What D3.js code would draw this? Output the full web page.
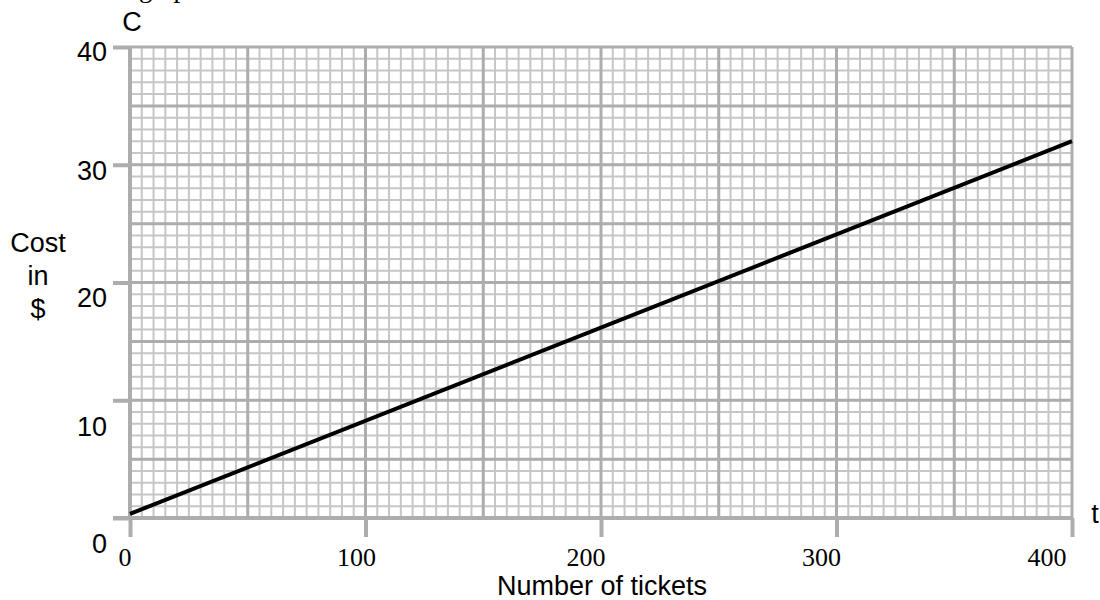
<!DOCTYPE html>
<html>
<head>
<meta charset="utf-8">
<script src="https://cdn.jsdelivr.net/npm/d3@7"></script>
<style>
  body { margin: 0; background: #fff; }
  svg { display: block; }
</style>
</head>
<body>
<svg id="chart" width="1100" height="600"></svg>
<script>
// ---- data ----
const tickets = [0, 400];
const cost = [0.35, 32];
const xTickLabels = [0, 100, 200, 300, 400];
const yTickLabels = [0, 10, 20, 30, 40];
const xMajorStep = 50, xMinorStep = 5;
const yMajorStep = 5, yMinorStep = 1;

// ---- layout ----
const W = 1100, H = 600;
const m = { left: 130, right: 28, top: 47, bottom: 82 };
const svg = d3.select("#chart");
const x = d3.scaleLinear().domain([0, 400]).range([m.left, W - m.right]);
const y = d3.scaleLinear().domain([0, 40]).range([H - m.bottom, m.top]);

const sans = "Liberation Sans, Arial, sans-serif";
const serif = "Liberation Serif, Times New Roman, serif";
const minorCol = "#c6c6c6", majorCol = "#adadad";

const g = svg.append("g");

// minor grid
g.append("g").selectAll("line").data(d3.range(0, 400 + 0.001, xMinorStep))
  .join("line").attr("x1", d => x(d)).attr("x2", d => x(d))
  .attr("y1", y(0)).attr("y2", y(40)).attr("stroke", minorCol).attr("stroke-width", 2);
g.append("g").selectAll("line").data(d3.range(0, 40 + 0.001, yMinorStep))
  .join("line").attr("y1", d => y(d)).attr("y2", d => y(d))
  .attr("x1", x(0)).attr("x2", x(400)).attr("stroke", minorCol).attr("stroke-width", 2);

// major grid
g.append("g").selectAll("line").data(d3.range(0, 400 + 0.001, xMajorStep))
  .join("line").attr("x1", d => x(d)).attr("x2", d => x(d))
  .attr("y1", y(0)).attr("y2", y(40)).attr("stroke", majorCol).attr("stroke-width", 3);
g.append("g").selectAll("line").data(d3.range(0, 40 + 0.001, yMajorStep))
  .join("line").attr("y1", d => y(d)).attr("y2", d => y(d))
  .attr("x1", x(0)).attr("x2", x(400)).attr("stroke", majorCol).attr("stroke-width", 3);

// axes (left & bottom thick lines with outward ticks)
const xAxis = d3.axisBottom(x).tickValues(xTickLabels).tickSize(19).tickFormat("");
const yAxis = d3.axisLeft(y).tickValues(yTickLabels).tickSize(17).tickFormat("");
const gx = svg.append("g").attr("transform", `translate(0,${y(0)})`).call(xAxis);
const gy = svg.append("g").attr("transform", `translate(${x(0)},0)`).call(yAxis);
[gx, gy].forEach(a => {
  a.select(".domain").attr("stroke", majorCol).attr("stroke-width", 4);
  a.selectAll(".tick line").attr("stroke", majorCol).attr("stroke-width", 4);
});
gy.select(".domain").attr("d", `M0,${y(40)}V${y(0)}`);
gx.select(".domain").attr("d", `M${x(0) - 17},0H${x(400)}`);

// x tick labels (serif)
const xOff = [-5, -9, -15, -15, -25];
svg.append("g").selectAll("text").data(xTickLabels).join("text")
  .attr("x", (d, i) => x(d) + xOff[i]).attr("y", y(0) + 48)
  .attr("text-anchor", "middle").attr("font-family", serif).attr("font-size", 26)
  .attr("fill", "#000").text(d => d);

// y tick labels (sans)
const yOff = [35, 36, 24, 15, 14];
svg.append("g").selectAll("text").data(yTickLabels).join("text")
  .attr("x", 107).attr("y", (d, i) => y(d) + yOff[i])
  .attr("text-anchor", "end").attr("font-family", sans).attr("font-size", 27)
  .attr("fill", "#000").text(d => d);

// data line
const pts = tickets.map((t, i) => [t, cost[i]]);
svg.append("path").datum(pts)
  .attr("d", d3.line().x(d => x(d[0])).y(d => y(d[1])))
  .attr("fill", "none").attr("stroke", "#000").attr("stroke-width", 4);

// labels
const lbl = (t, xx, yy, anchor, fam) => svg.append("text").attr("x", xx).attr("y", yy)
  .attr("text-anchor", anchor).attr("font-family", fam || sans).attr("font-size", 27)
  .attr("fill", "#000").text(t);
lbl("C", 132, 31, "middle");
lbl("Cost", 38, 252, "middle");
lbl("in", 38, 285, "middle");
lbl("$", 38, 318, "middle");
lbl("t", 1095, 523, "middle");
lbl("Number of tickets", 602, 595, "middle");
lbl("graph", 139, -3, "start", serif);
</script>
</body>
</html>
